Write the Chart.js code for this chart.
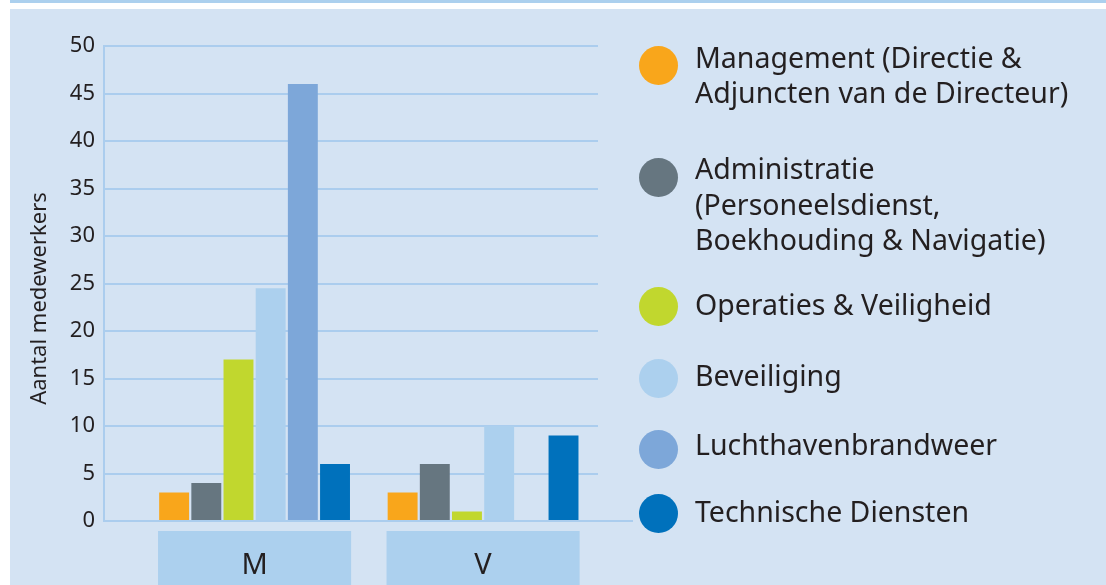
<!DOCTYPE html>
<html lang="nl">
<head>
    <meta charset="UTF-8">
    <title>Aantal medewerkers</title>
    <style>
        * {
            margin: 0;
            padding: 0;
            box-sizing: border-box;
        }

        body {
            width: 1106px;
            height: 585px;
            background: #fff;
            font-family: 'Noto Sans', sans-serif;
            color: #231f20;
            overflow: hidden;
            position: relative;
        }

        /* thin blue rule on top, then the light blue panel */
        .top-line {
            position: absolute;
            left: 10px;
            top: 0;
            right: 0;
            height: 3px;
            background: #acd0ee;
        }

        .panel {
            position: absolute;
            left: 10px;
            top: 9px;
            right: 0;
            bottom: 0;
            background: #d4e3f3;
        }

        .chart-box {
            position: absolute;
            left: 10px;
            top: 9px;
            width: 630px;
            height: 576px;
        }

        /* Legend on the right */
        .legend {
            position: absolute;
            left: 639px;
            top: 0;
            width: 467px;
            height: 585px;
        }

        .legend-item {
            position: absolute;
            left: 0;
            font-size: 28.5px;
            line-height: 35.5px;
            white-space: pre-line;
        }

        .legend-item .dot {
            position: absolute;
            left: 0;
            width: 39px;
            height: 39px;
            border-radius: 50%;
        }

        .legend-item .text {
            display: block;
            margin-left: 56px;
        }

        .legend-item:nth-child(1) { top: 39.5px; }
        .legend-item:nth-child(1) .dot { top: 6.5px; }
        .legend-item:nth-child(2) { top: 151px; }
        .legend-item:nth-child(2) .dot { top: 7px; }
        .legend-item:nth-child(3) { top: 287px; }
        .legend-item:nth-child(3) .dot { top: 0; }
        .legend-item:nth-child(4) { top: 358px; }
        .legend-item:nth-child(4) .dot { top: 1px; }
        .legend-item:nth-child(5) { top: 427px; }
        .legend-item:nth-child(5) .dot { top: 3px; }
        .legend-item:nth-child(6) { top: 493.5px; }
        .legend-item:nth-child(6) .dot { top: 0.5px; }
    </style>
    <script src="https://cdn.jsdelivr.net/npm/chart.js"></script>
</head>
<body>
    <div class="top-line"></div>
    <div class="panel"></div>
    <div class="chart-box">
        <canvas id="staffChart"></canvas>
    </div>
    <div class="legend" id="legend"></div>

    <script>
        // Data
        const categories = ['M', 'V'];
        const seriesLabels = [
            'Management (Directie &\nAdjuncten van de Directeur)',
            'Administratie\n(Personeelsdienst,\nBoekhouding & Navigatie)',
            'Operaties & Veiligheid',
            'Beveiliging',
            'Luchthavenbrandweer',
            'Technische Diensten'
        ];
        const management = [3, 3];
        const administratie = [4, 6];
        const operaties = [17, 1];
        const beveiliging = [24.5, 10];
        const brandweer = [46, 0];
        const technisch = [6, 9];
        const yTicks = [0, 5, 10, 15, 20, 25, 30, 35, 40, 45, 50];
        const axisTitle = 'Aantal medewerkers';

        const seriesValues = [management, administratie, operaties, beveiliging, brandweer, technisch];
        const seriesColors = ['#f9a61b', '#667680', '#c1d72e', '#acd0ee', '#7da7d9', '#0071bc'];

        const textColor = '#231f20';
        const gridColor = '#abcdee';
        const catPct = 0.845;

        Chart.defaults.font.family = "'Noto Sans', sans-serif";
        Chart.defaults.color = textColor;

        // light blue boxes behind the M / V labels
        const categoryBoxes = {
            id: 'categoryBoxes',
            beforeDraw(chart) {
                const { ctx, chartArea, scales: { x } } = chart;
                const step = x.getPixelForValue(1) - x.getPixelForValue(0);
                const w = step * catPct;
                ctx.save();
                ctx.fillStyle = '#acd0ee';
                categories.forEach((c, i) => {
                    const cx = x.getPixelForValue(i);
                    ctx.fillRect(cx - w / 2, chartArea.bottom + 10, w, chart.height - chartArea.bottom - 10);
                });
                ctx.restore();
            }
        };

        // zero line runs on a bit past the grid + rotated axis title
        const extras = {
            id: 'extras',
            afterDraw(chart) {
                const { ctx, chartArea, scales: { y } } = chart;
                const y0 = y.getPixelForValue(0);
                ctx.save();
                ctx.strokeStyle = gridColor;
                ctx.lineWidth = 2;
                ctx.beginPath();
                ctx.moveTo(chartArea.right, y0);
                ctx.lineTo(chartArea.right + 35, y0);
                ctx.stroke();

                ctx.translate(30, (chartArea.top + chartArea.bottom) / 2 + 15);
                ctx.rotate(-Math.PI / 2);
                ctx.fillStyle = textColor;
                ctx.font = "22px 'Noto Sans', sans-serif";
                ctx.textAlign = 'center';
                ctx.textBaseline = 'middle';
                ctx.fillText(axisTitle, 0, 0);
                ctx.restore();
            }
        };

        const ctxStaff = document.getElementById('staffChart').getContext('2d');
        const chart = new Chart(ctxStaff, {
            type: 'bar',
            data: {
                datasets: seriesLabels.map((label, s) => ({
                    label: label,
                    data: categories.map((c, i) => ({ x: i, y: seriesValues[s][i] })),
                    backgroundColor: seriesColors[s],
                    borderWidth: 0,
                    categoryPercentage: catPct,
                    barPercentage: 0.93
                }))
            },
            options: {
                responsive: true,
                maintainAspectRatio: false,
                animation: false,
                layout: {
                    padding: { top: 37, right: 42, left: 0, bottom: 0 }
                },
                plugins: {
                    legend: { display: false },
                    tooltip: { enabled: false }
                },
                scales: {
                    x: {
                        type: 'linear',
                        offset: false,
                        min: -0.659,
                        max: 1.503,
                        grid: { display: false },
                        border: { display: false },
                        afterBuildTicks(axis) {
                            axis.ticks = categories.map((c, i) => ({ value: i }));
                        },
                        afterFit(scale) {
                            scale.height = 64;
                        },
                        ticks: {
                            callback: (v) => categories[v],
                            font: { size: 29 },
                            color: textColor,
                            padding: 19,
                            maxRotation: 0
                        }
                    },
                    y: {
                        min: 0,
                        max: 50,
                        afterBuildTicks(axis) {
                            axis.ticks = yTicks.map(v => ({ value: v }));
                        },
                        afterFit(scale) {
                            scale.width = 94;
                        },
                        grid: {
                            color: gridColor,
                            lineWidth: 2,
                            drawTicks: false
                        },
                        border: {
                            color: gridColor,
                            width: 2
                        },
                        ticks: {
                            font: { size: 22 },
                            color: textColor,
                            padding: 9
                        }
                    }
                }
            },
            plugins: [categoryBoxes, extras]
        });

        // HTML legend built from the datasets
        const legendEl = document.getElementById('legend');
        chart.data.datasets.forEach(ds => {
            const item = document.createElement('div');
            item.className = 'legend-item';
            const dot = document.createElement('span');
            dot.className = 'dot';
            dot.style.background = ds.backgroundColor;
            const text = document.createElement('span');
            text.className = 'text';
            text.textContent = ds.label;
            item.appendChild(dot);
            item.appendChild(text);
            legendEl.appendChild(item);
        });
    </script>
</body>
</html>
